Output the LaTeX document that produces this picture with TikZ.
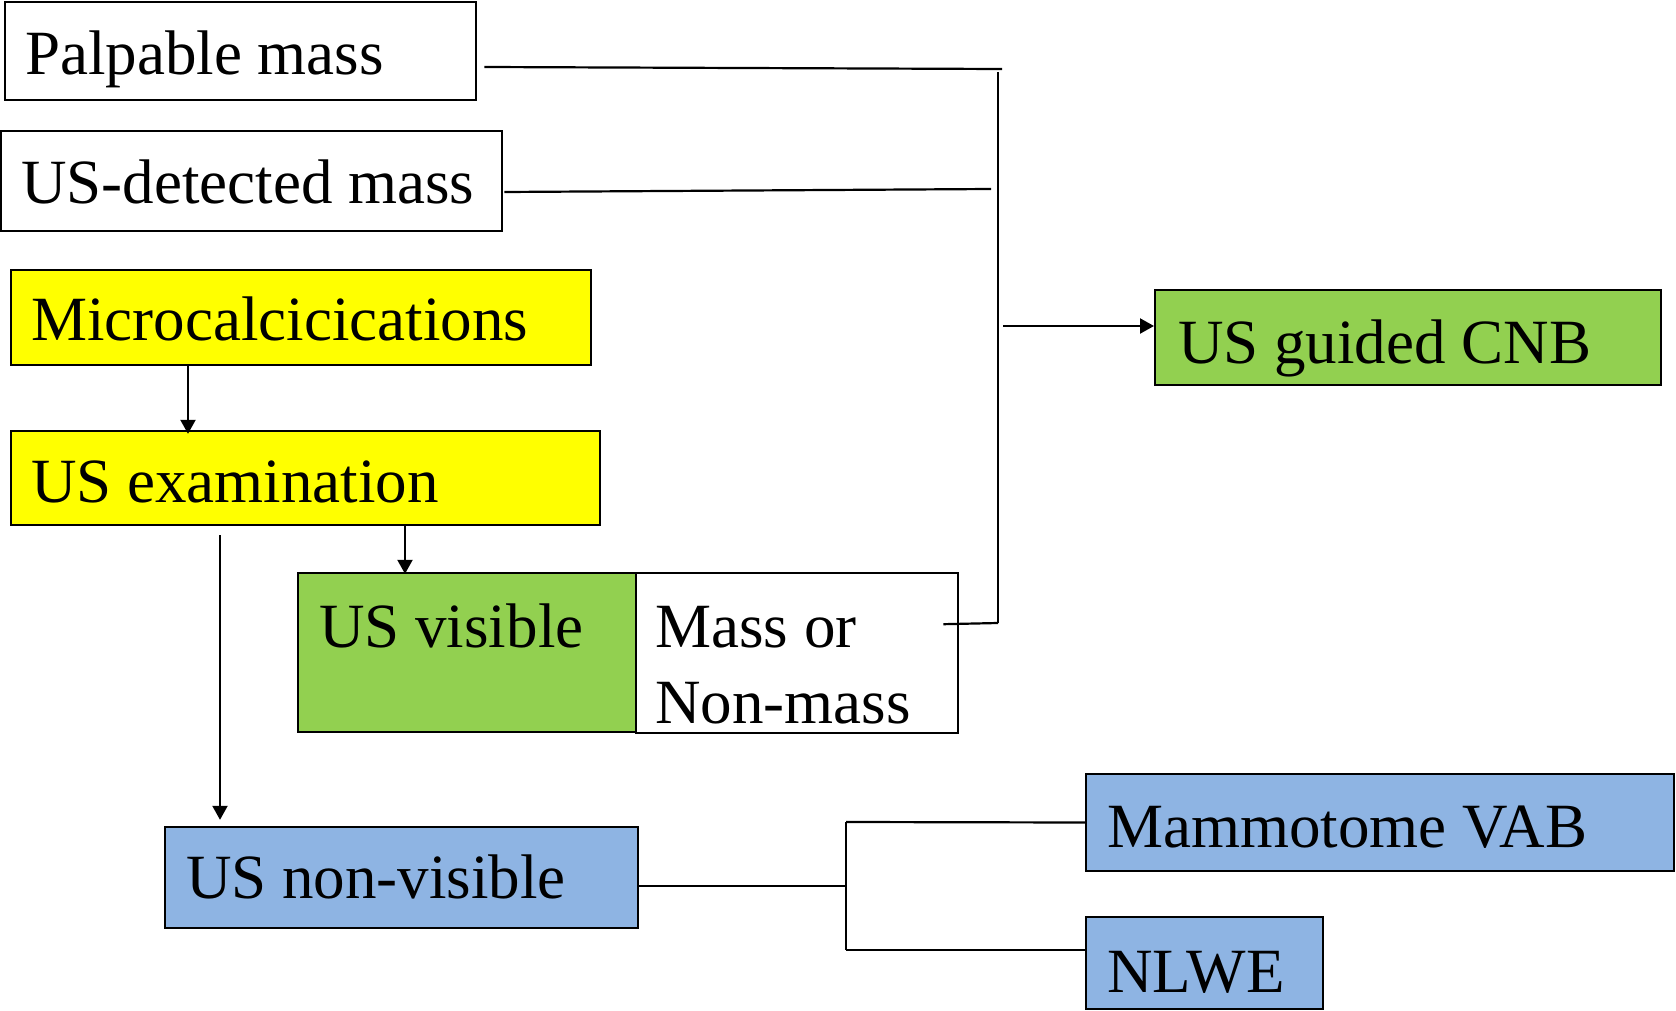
\documentclass[tikz,border=0pt]{standalone}
\usepackage{fontspec}
\setmainfont{Liberation Serif}
\usetikzlibrary{arrows.meta}
\definecolor{cyel}{HTML}{FFFF00}
\definecolor{cgrn}{HTML}{92D050}
\definecolor{cblu}{HTML}{8EB4E3}
\newcommand\lbx[2]{\makebox[#1][l]{#2}}
\begin{document}
\begin{tikzpicture}[x=0.5pt,y=-0.5pt,
  box/.style={draw, line width=1.2pt, inner ysep=0pt, anchor=base west,
    font=\fontsize{31.5pt}{36pt}\selectfont},
  txt/.style={inner sep=0pt, anchor=base west, font=\fontsize{31.5pt}{36pt}\selectfont},
  ln/.style={line width=1.1pt},
  arr/.style={line width=1.1pt, -{Triangle[length=7pt,width=7.5pt]}}]
\useasboundingbox (0,0) rectangle (1676,1011);
\fill[white] (0,0) rectangle (1676,1011);

\node[box, fill=white, inner xsep=10pt, text height=36.5pt, text depth=12.5pt] (palp) at (4,75) {\lbx{215.5pt}{Palpable mass}};
\node[box, fill=white, inner xsep=10pt, text height=36pt, text depth=14pt] (usdet) at (0,203) {\lbx{230.5pt}{US-detected mass}};
\node[box, fill=cyel, inner xsep=10pt, text height=35pt, text depth=12.5pt] (micro) at (10,340) {\lbx{270pt}{Microcalcicications}};
\node[box, fill=cyel, inner xsep=10pt, text height=35.5pt, text depth=11.5pt] (usexam) at (10,502) {\lbx{274.5pt}{US examination}};
\node[box, fill=cgrn, inner xsep=10.5pt, text height=37pt, text depth=42.5pt] (usvis) at (297,647) {\lbx{148pt}{US visible}};
\node[draw, line width=1.2pt, fill=white, inner sep=0pt, anchor=north west, minimum width=161pt, minimum height=80pt] (mass) at (635,572) {};
\node[txt] (mass1) at (655,647) {Mass or};
\node[txt] (mass2) at (655,723) {Non-mass};
\node[box, fill=cgrn, inner xsep=11.5pt, text height=36.5pt, text depth=11pt] (cnb) at (1154,363) {\lbx{230pt}{US guided CNB}};
\node[box, fill=cblu, inner xsep=10.5pt, text height=35.5pt, text depth=15pt] (usnon) at (164,898) {\lbx{215.5pt}{US non-visible}};
\node[box, fill=cblu, inner xsep=10.5pt, text height=36.5pt, text depth=12pt] (vab) at (1085,847) {\lbx{273pt}{Mammotome VAB}};
\node[box, fill=cblu, inner xsep=10.5pt, text height=37.5pt, text depth=8.5pt] (nlwe) at (1085,992) {\lbx{97.5pt}{NLWE}};

% right-hand bus
\coordinate (pe) at (1002,69);
\coordinate (de) at (991,189);
\coordinate (btop) at (998,72);
\coordinate (bbot) at (998,623);
\coordinate (bmid) at (1003,326);
\draw[ln] ([shift={(7,16)}]palp.east) -- (pe);
\draw[ln] ([shift={(1,11)}]usdet.east) -- (de);
\draw[ln] (btop) -- (bbot);
\draw[ln] ([shift={(-16,-29)}]mass.east) -- (bbot);
\draw[arr] (bmid) -- (cnb.west |- bmid);

% left flow
\draw[arr] ([shift={(178,0)}]micro.south west) -- ([shift={(178,4)}]usexam.north west);
\draw[arr] ([shift={(395,0)}]usexam.south west) -- ([shift={(108,2)}]usvis.north west);
\draw[arr] ([shift={(210,9)}]usexam.south west) -- ([shift={(56,-6)}]usnon.north west);

% lower split
\coordinate (sp) at (846,886);
\coordinate (st) at (846,822);
\coordinate (sb) at (846,950);
\draw[ln] ([shift={(0,8.5)}]usnon.east) -- (sp);
\draw[ln] (st) -- (sb);
\draw[ln] (st) -- (vab.west);
\draw[ln] (sb) -- (nlwe.west |- sb);
\end{tikzpicture}
\end{document}
